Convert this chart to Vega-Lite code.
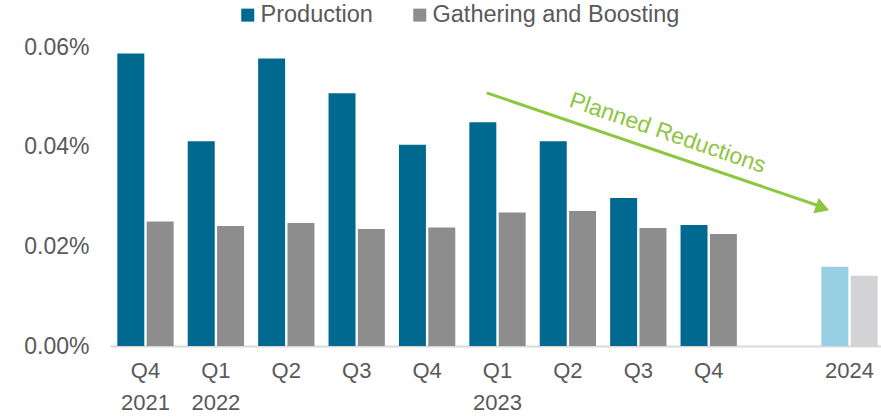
{
  "$schema": "https://vega.github.io/schema/vega-lite/v6.json",
  "width": 775,
  "height": 299,
  "autosize": "none",
  "padding": {"left": 110, "top": 47, "right": 0, "bottom": 72},
  "config": {
    "view": {"stroke": null},
    "font": "Liberation Sans"
  },
  "layer": [
    {
      "data": {
        "values": [
          {"period": "Q4 2021", "series": "Production", "key": "Production", "value": 0.000587},
          {"period": "Q4 2021", "series": "Gathering and Boosting", "key": "Gathering and Boosting", "value": 0.000250},
          {"period": "Q1 2022", "series": "Production", "key": "Production", "value": 0.000411},
          {"period": "Q1 2022", "series": "Gathering and Boosting", "key": "Gathering and Boosting", "value": 0.000241},
          {"period": "Q2 2022", "series": "Production", "key": "Production", "value": 0.000577},
          {"period": "Q2 2022", "series": "Gathering and Boosting", "key": "Gathering and Boosting", "value": 0.000247},
          {"period": "Q3 2022", "series": "Production", "key": "Production", "value": 0.000507},
          {"period": "Q3 2022", "series": "Gathering and Boosting", "key": "Gathering and Boosting", "value": 0.000235},
          {"period": "Q4 2022", "series": "Production", "key": "Production", "value": 0.000404},
          {"period": "Q4 2022", "series": "Gathering and Boosting", "key": "Gathering and Boosting", "value": 0.000238},
          {"period": "Q1 2023", "series": "Production", "key": "Production", "value": 0.000449},
          {"period": "Q1 2023", "series": "Gathering and Boosting", "key": "Gathering and Boosting", "value": 0.000268},
          {"period": "Q2 2023", "series": "Production", "key": "Production", "value": 0.000411},
          {"period": "Q2 2023", "series": "Gathering and Boosting", "key": "Gathering and Boosting", "value": 0.000271},
          {"period": "Q3 2023", "series": "Production", "key": "Production", "value": 0.000297},
          {"period": "Q3 2023", "series": "Gathering and Boosting", "key": "Gathering and Boosting", "value": 0.000237},
          {"period": "Q4 2023", "series": "Production", "key": "Production", "value": 0.000243},
          {"period": "Q4 2023", "series": "Gathering and Boosting", "key": "Gathering and Boosting", "value": 0.000225},
          {"period": "2024", "series": "Production", "key": "Production (planned)", "value": 0.000159},
          {"period": "2024", "series": "Gathering and Boosting", "key": "Gathering and Boosting (planned)", "value": 0.000141}
        ]
      },
      "mark": {"type": "bar"},
      "encoding": {
        "x": {
          "field": "period",
          "type": "nominal",
          "scale": {
            "domain": ["Q4 2021", "Q1 2022", "Q2 2022", "Q3 2022", "Q4 2022", "Q1 2023", "Q2 2023", "Q3 2023", "Q4 2023", "gap", "2024"],
            "paddingInner": 0.2,
            "paddingOuter": 0.104
          },
          "axis": {
            "title": null,
            "labelAngle": 0,
            "ticks": false,
            "domainColor": "#D9D9D9",
            "domainWidth": 2,
            "labelFont": "Liberation Sans",
            "labelFontSize": 22,
            "labelColor": "#595959",
            "labelPadding": 14,
            "labelLineHeight": 32,
            "labelExpr": "datum.value == 'Q4 2021' || datum.value == 'Q1 2022' || datum.value == 'Q1 2023' ? split(datum.value, ' ') : datum.value == 'gap' ? '' : datum.value == '2024' ? '2024' : slice(datum.value, 0, 2)"
          }
        },
        "xOffset": {
          "field": "series",
          "type": "nominal",
          "sort": ["Production", "Gathering and Boosting"],
          "scale": {"paddingInner": 0.08}
        },
        "y": {
          "field": "value",
          "type": "quantitative",
          "scale": {"domain": [0, 0.0006], "nice": false},
          "axis": {
            "title": null,
            "format": ".2%",
            "values": [0, 0.0002, 0.0004, 0.0006],
            "grid": false,
            "domain": false,
            "ticks": false,
            "labelFont": "Liberation Sans",
            "labelFontSize": 23,
            "labelColor": "#595959",
            "labelPadding": 21
          }
        },
        "color": {
          "field": "key",
          "type": "nominal",
          "scale": {
            "domain": ["Production", "Gathering and Boosting", "Production (planned)", "Gathering and Boosting (planned)"],
            "range": ["#006990", "#8C8D8C", "#97CFE4", "#D3D3D5"]
          },
          "legend": {
            "values": ["Production", "Gathering and Boosting"],
            "orient": "none",
            "legendX": 126,
            "legendY": -44,
            "direction": "horizontal",
            "title": null,
            "symbolType": "square",
            "symbolSize": 169,
            "symbolStrokeWidth": 0,
            "labelFont": "Liberation Sans",
            "labelFontSize": 23.5,
            "labelColor": "#595959",
            "labelOffset": 1,
            "labelLimit": 400,
            "columnPadding": 35,
            "padding": 0
          }
        }
      }
    },
    {
      "data": {"values": [{"ix": 4.847, "v": 0.000508}, {"ix": 9.57, "v": 0.000281}]},
      "mark": {"type": "line", "color": "#8DC63F", "strokeWidth": 3},
      "encoding": {
        "x": {"field": "ix", "type": "quantitative", "scale": {"domain": [-0.504, 10.504], "nice": false, "zero": false}, "axis": null},
        "y": {"field": "v", "type": "quantitative", "scale": {"domain": [0, 0.0006], "nice": false}}
      }
    },
    {
      "data": {"values": [{"ix": 9.617, "v": 0.000277}]},
      "mark": {"type": "point", "shape": "triangle-right", "filled": true, "size": 260, "angle": 19, "color": "#8DC63F", "opacity": 1},
      "encoding": {
        "x": {"field": "ix", "type": "quantitative", "scale": {"domain": [-0.504, 10.504], "nice": false, "zero": false}, "axis": null},
        "y": {"field": "v", "type": "quantitative", "scale": {"domain": [0, 0.0006], "nice": false}}
      }
    },
    {
      "data": {"values": [{"ix": 7.417, "v": 0.000427, "label": "Planned Reductions"}]},
      "mark": {"type": "text", "angle": 19, "align": "center", "baseline": "middle", "fontSize": 23, "font": "Liberation Sans", "color": "#8DC63F"},
      "encoding": {
        "x": {"field": "ix", "type": "quantitative", "scale": {"domain": [-0.504, 10.504], "nice": false, "zero": false}, "axis": null},
        "y": {"field": "v", "type": "quantitative", "scale": {"domain": [0, 0.0006], "nice": false}},
        "text": {"field": "label"}
      }
    }
  ],
  "resolve": {"scale": {"x": "independent"}}
}
